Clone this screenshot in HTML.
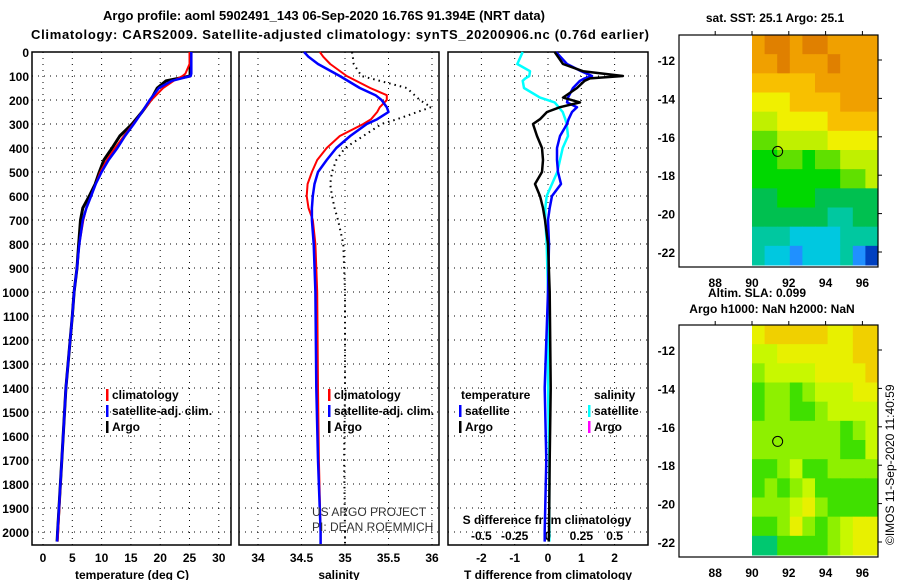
<!DOCTYPE html>
<html><head><meta charset="utf-8"><style>
body{margin:0;background:#fff;}
svg{display:block;font-family:"Liberation Sans",sans-serif;font-weight:bold;}
</style></head><body>
<svg id="c" width="900" height="580" viewBox="0 0 900 580">
<text x="324" y="20" text-anchor="middle" font-size="13" textLength="442">Argo profile: aoml 5902491_143 06-Sep-2020 16.76S 91.394E (NRT data)</text>
<text x="340" y="39" text-anchor="middle" font-size="13" textLength="618">Climatology: CARS2009. Satellite-adjusted climatology: synTS_20200906.nc (0.76d earlier)</text>
<text x="775" y="22" text-anchor="middle" font-size="12">sat. SST: 25.1 Argo: 25.1</text>
<text x="708" y="297" font-size="12">Altim. SLA: 0.099</text>
<text x="772" y="313" text-anchor="middle" font-size="12">Argo h1000: NaN h2000: NaN</text>
<text transform="translate(894,545) rotate(-90)" font-size="12" font-weight="normal">©IMOS 11-Sep-2020 11:40:59</text>
</svg>
<script>
// ---- data ----
const depthT = [0,50,90,100,120,150,200,250,300,350,400,450,500,550,600,650,700,800,900,1000,1100,1400,1700,2000,2040];
const tempArgo = [25.1,25.1,25.1,25.1,21,19.5,18.4,16.9,15.2,13.1,11.8,10.4,9.6,8.9,7.9,6.8,6.4,6.1,5.8,5.3,5.0,3.9,3.2,2.5,2.4];
const tempClim = [25.0,25.0,24.3,23.8,22.3,20.5,18.5,16.9,15.4,13.8,12.3,10.9,9.8,9.0,8.2,7.4,6.9,6.2,5.8,5.3,5.0,3.9,3.2,2.6,2.5];
const tempSat = [25.3,25.3,25.3,25.2,22,19.8,18.2,16.9,15.5,14.0,12.7,11.2,10.0,9.0,8.2,7.4,6.8,6.2,5.8,5.3,5.0,3.9,3.2,2.5,2.4];
const depthS = [0,20,50,100,150,180,200,230,250,280,300,350,400,450,500,550,600,650,700,800,1000,1400,1700,2000,2050];
const salClim = [34.71,34.75,34.83,35.02,35.29,35.48,35.48,35.40,35.37,35.30,35.21,34.94,34.79,34.68,34.62,34.57,34.56,34.58,34.63,34.66,34.68,34.69,34.70,34.72,34.72];
const salSat = [34.53,34.58,34.69,34.94,35.17,35.35,35.42,35.48,35.50,35.37,35.25,35.06,34.90,34.79,34.69,34.65,34.63,34.62,34.62,34.64,34.66,34.67,34.69,34.72,34.72];
const salArgo = [35.08,35.09,35.10,35.19,35.71,35.80,35.86,35.99,35.83,35.60,35.42,35.21,35.00,34.90,34.85,34.83,34.85,34.88,34.92,34.98,35.0,35.0,34.99,35.0,35.0];
const depthD = [0,50,80,100,110,120,150,190,210,230,250,280,300,350,400,450,500,550,600,650,700,800,1000,1400,1700,2000,2040];
const dTArgo = [0.2,0.45,1.05,2.25,1.26,1.1,0.87,0.45,0.96,0.36,-0.03,-0.24,-0.45,-0.33,-0.18,-0.15,-0.18,-0.39,-0.24,-0.15,-0.09,0,0.05,0.08,0.05,0.03,0.02];
const dTSat = [0.24,0.57,1.0,1.32,1.1,0.96,0.75,0.6,0.57,0.87,0.72,0.62,0.57,0.36,0.27,0.27,0.3,0.39,0.12,0.05,0,0.03,0,-0.1,-0.05,-0.1,-0.1];
const dSSat = [-0.19,-0.23,-0.135,-0.14,-0.17,-0.19,-0.18,-0.06,0.05,0.08,0.11,0.13,0.14,0.15,0.11,0.09,0.07,0.03,-0.01,-0.02,-0.02,-0.01,0,0,0.01,0.01,0.01];
const depthTicks = [0,100,200,300,400,500,600,700,800,900,1000,1100,1200,1300,1400,1500,1600,1700,1800,1900,2000];
const tempTicks = [0,5,10,15,20,25,30];
const salTicks = [34,34.5,35,35.5,36];
const dTTicks = [-2,-1,0,1,2];
const dSTicks = [-0.5,-0.25,0,0.25,0.5];
const dSTickLabels = ["-0.5","-0.25","0","0.25","0.5"];
const lonTicks = [88,90,92,94,96];
const latTicks = [-12,-14,-16,-18,-20,-22];
const sstGrid = [
[1,0,0,1,0,0,1,1,1,1],[1,1,0,1,1,1,0,1,1,1],[2,2,2,2,2,1,1,1,1,1],[3,3,3,2,2,2,2,1,1,1],
[4,4,3,3,3,3,2,2,2,2],[5,5,4,4,4,4,3,3,3,3],[6,6,5,5,6,5,5,4,4,4],[6,6,6,6,6,6,6,5,5,4],
[7,7,6,6,6,7,7,7,7,7],[7,7,7,7,7,7,8,8,7,7],[8,8,8,9,9,9,9,8,8,8],[8,9,9,10,9,9,9,8,10,11]];
const sstColors = ["#e08000","#f0a000","#f8c000","#f0f000","#c0f000","#60e000","#00d800","#00c050","#00c8a0","#00c8e0","#2090ff","#0040c0"];
const slaGrid = [
[1,0,0,0,0,0,1,1,0,0],[2,2,1,1,1,1,1,1,0,0],[3,2,2,2,2,1,1,1,1,0],[4,3,3,4,3,2,2,2,1,1],
[4,3,3,4,4,3,2,2,2,2],[3,3,3,3,3,3,3,4,3,2],[3,3,3,3,3,3,3,4,4,2],[4,4,3,2,4,4,3,3,3,3],
[4,3,4,3,2,4,4,4,4,4],[3,3,3,2,1,3,4,4,4,4],[4,4,3,1,3,4,3,2,1,1],[5,5,4,4,4,4,3,2,1,1]];
const slaColors = ["#f0d000","#e8f000","#c8f800","#8ef000","#40e000","#00c870"];

const svg = document.getElementById('c');
const NS = 'http://www.w3.org/2000/svg';
function mk(tag, attrs){const e=document.createElementNS(NS,tag);for(const k in attrs)e.setAttribute(k,attrs[k]);svg.appendChild(e);return e;}
const y = d => 52 + d*0.24;
const xT = v => 43 + v*5.86;
const xS = v => 258 + (v-34)*87;
const xDT = v => 548 + v*33.3;
const xDS = v => 548 + v*133.3;

const panels = [[32,231],[239,439],[448,648]];
panels.forEach((p,i)=>{
  const r = mk('rect',{x:p[0],y:52,width:p[1]-p[0],height:493,fill:'none',stroke:'#000','stroke-width':1.5});
  
  
  depthTicks.forEach(d=>{ if(d===0) return;
    const l = mk('line',{x1:p[0],x2:p[1],y1:y(d),y2:y(d),stroke:'#000','stroke-dasharray':'1,5'});
    
    
  });
});
depthTicks.forEach(d=>{
  const t = mk('text',{x:29,y:y(d)+5,'text-anchor':'end','font-size':12});
  t.textContent = d;
  
  
});
function vgrid(ticks, fx, labels, ly, fs, nm){
  ticks.forEach((v,i)=>{
    const l = mk('line',{x1:fx(v),x2:fx(v),y1:52,y2:545,stroke:'#000','stroke-dasharray':'1,5'});
    
    
    const t = mk('text',{x:fx(v),y:ly,'text-anchor':'middle','font-size':fs});
    t.textContent = labels ? labels[i] : v;
    
    
  });
}
vgrid(tempTicks,xT,null,562,12,'temperature');
vgrid(salTicks,xS,null,562,12,'salinity');
vgrid(dTTicks,xDT,null,562,12,'t-diff');
dSTicks.forEach((v,i)=>{
  const t = mk('text',{x:xDS(v),y:540,'text-anchor':'middle','font-size':12});
  t.textContent = dSTickLabels[i];
  
  
});
[['temperature (deg C)',132,'temperature-axis-title'],['salinity',339,'salinity-axis-title'],['T difference from climatology',548,'t-diff-axis-title']].forEach(a=>{
  const t = mk('text',{x:a[1],y:579,'text-anchor':'middle','font-size':12});
  t.textContent = a[0];
  
  
});
const sdt = mk('text',{x:547,y:524,'text-anchor':'middle','font-size':12});
sdt.textContent='S difference from climatology';



function line(depths, vals, fx, color, w, name, dash){
  const pts = depths.map((d,i)=>fx(vals[i]).toFixed(1)+','+y(d).toFixed(1)).join(' ');
  const a = {points:pts,fill:'none',stroke:color,'stroke-width':w,'stroke-linejoin':'round'};
  if(dash) a['stroke-dasharray']=dash;
  const p = mk('polyline',a);
  
  
}
line(depthT,tempArgo,xT,'#000',3,'temp-argo-line');
line(depthT,tempClim,xT,'#f00',2,'temp-climatology-line');
line(depthT,tempSat,xT,'#00f',2.5,'temp-satellite-line');
line(depthS,salArgo,xS,'#000',2,'salinity-argo-line','1.5,4');
line(depthS,salClim,xS,'#f00',2,'salinity-climatology-line');
line(depthS,salSat,xS,'#00f',2.5,'salinity-satellite-line');
line(depthD,dSSat,xDS,'#0ff',2.5,'s-diff-satellite-line');
line(depthD,dTSat,xDT,'#00f',2.5,'t-diff-satellite-line');
line(depthD,dTArgo,xDT,'#000',2.5,'t-diff-argo-line');

function legend(x, yy, color, label, name){
  const m = mk('rect',{x:x,y:yy-10,width:2.5,height:12,fill:color});
  
  
  const t = mk('text',{x:x+6,y:yy,'font-size':12});
  t.textContent = label;
  
  
}
legend(106,399,'#f00','climatology','legend-temp-climatology');
legend(106,415,'#00f','satellite-adj. clim.','legend-temp-satellite');
legend(106,431,'#000','Argo','legend-temp-argo');
legend(328,399,'#f00','climatology','legend-sal-climatology');
legend(328,415,'#00f','satellite-adj. clim.','legend-sal-satellite');
legend(328,431,'#000','Argo','legend-sal-argo');
const lt = mk('text',{x:461,y:399,'font-size':12}); lt.textContent='temperature';


const ls = mk('text',{x:594,y:399,'font-size':12}); ls.textContent='salinity';


legend(459,415,'#00f','satellite','legend-dt-satellite');
legend(459,431,'#000','Argo','legend-dt-argo');
legend(588,415,'#0ff','satellite','legend-ds-satellite');
legend(588,431,'#f0f','Argo','legend-ds-argo');
const c1 = mk('text',{x:312,y:516,'font-size':12,'font-weight':'normal',fill:'#333'}); c1.textContent='US ARGO PROJECT';


const c2 = mk('text',{x:312,y:531,'font-size':12,'font-weight':'normal',fill:'#333'}); c2.textContent='PI: DEAN ROEMMICH';



// ---- maps ----
const lonX = v => 752 + (v-90)*18.4;
function map(top, grid, colors, nm){
  const latY = v => top + 25 + (-12 - v)*19.2;
  const x0 = 752, x1 = 878, y0 = top, y1 = top+230;
  const cw = (x1-x0)/10, ch = (y1-y0)/12;
  grid.forEach((row,r)=>row.forEach((v,c)=>{
    const cell = mk('rect',{x:x0+c*cw,y:y0+r*ch,width:cw+0.5,height:ch+0.5,fill:colors[v]});
    
    
  }));
  const f = mk('rect',{x:679,y:top,width:199,height:232,fill:'none',stroke:'#000','stroke-width':1.2});
  
  
  lonTicks.forEach(v=>{
    const tk = mk('line',{x1:lonX(v),x2:lonX(v),y1:top-4,y2:top,stroke:'#000'});
    
    
    const t = mk('text',{x:lonX(v),y:top+252,'text-anchor':'middle','font-size':12});
    t.textContent = v;
    
    
  });
  latTicks.forEach(v=>{
    const tk = mk('line',{x1:878,x2:882,y1:latY(v),y2:latY(v),stroke:'#000'});
    
    
    const t = mk('text',{x:675,y:latY(v)+5,'text-anchor':'end','font-size':12});
    t.textContent = v;
    
    
  });
  const ci = mk('circle',{cx:lonX(91.394),cy:latY(-16.76),r:5,fill:'none',stroke:'#000'});
  
  
}
map(35,sstGrid,sstColors,'sst-map');
map(325,slaGrid,slaColors,'sla-map');
</script>
</body></html>
